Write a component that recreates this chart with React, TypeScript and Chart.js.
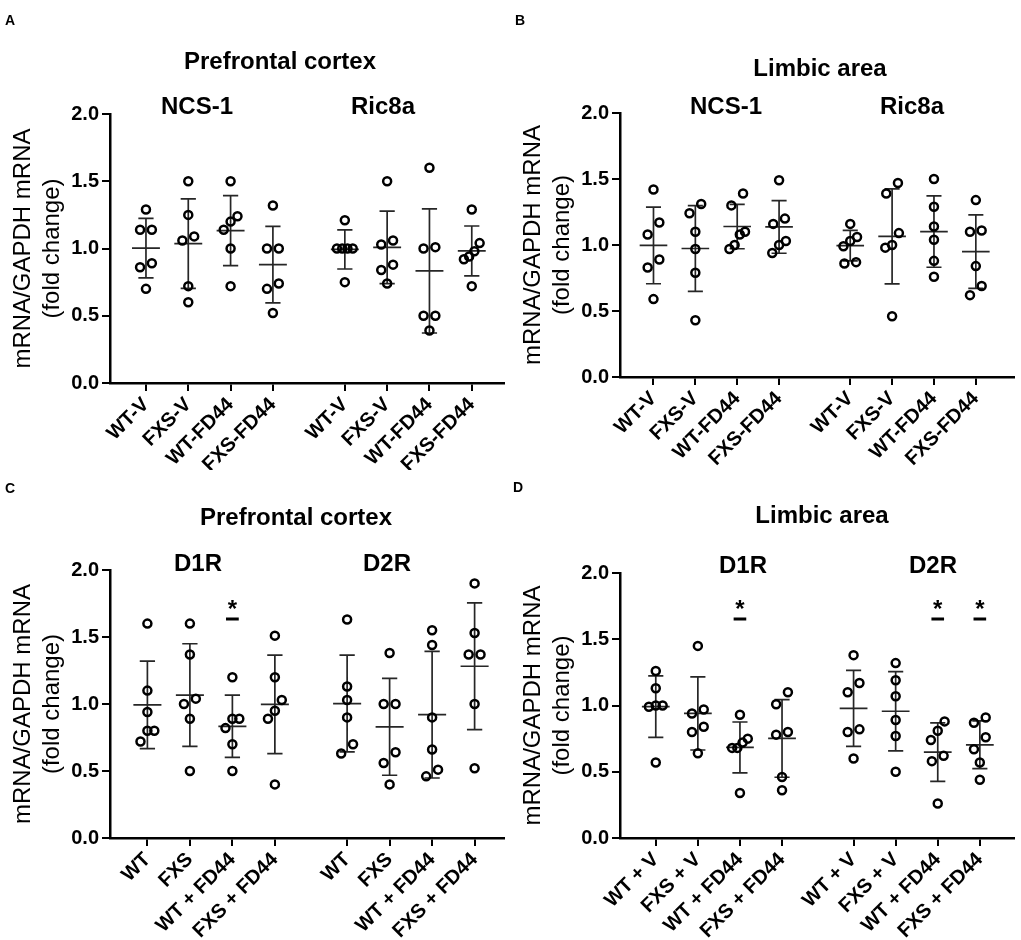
import React, { useEffect, useRef } from "react";
import { Chart, registerables } from "chart.js";

Chart.register(...registerables);

const FONT = "'Liberation Sans', Arial, Helvetica, sans-serif";

// ---------- categories / tick labels ----------
const labelsDash = ["WT-V", "FXS-V", "WT-FD44", "FXS-FD44"];
const labelsTreat = ["WT", "FXS", "WT + FD44", "FXS + FD44"];
const labelsPlusV = ["WT + V", "FXS + V", "WT + FD44", "FXS + FD44"];
const yTickValues = [0, 0.5, 1.0, 1.5, 2.0];

// ---------- values (mRNA/GAPDH fold change), one array per group ----------
// A: prefrontal cortex
const pfcNCS1 = [
  [1.29, 1.14, 1.14, 0.89, 0.86, 0.70],
  [1.50, 1.25, 1.06, 1.09, 0.72, 0.60],
  [1.50, 1.24, 1.20, 1.14, 1.00, 0.72],
  [1.32, 1.00, 1.00, 0.74, 0.70, 0.52],
];
const pfcRic8a = [
  [1.21, 1.00, 1.00, 1.00, 1.00, 0.75],
  [1.50, 1.06, 1.03, 0.88, 0.84, 0.74],
  [1.60, 1.00, 1.01, 0.50, 0.50, 0.39],
  [1.29, 1.04, 0.98, 0.94, 0.92, 0.72],
];
// B: limbic area
const limNCS1 = [
  [1.42, 1.17, 1.08, 0.89, 0.83, 0.59],
  [1.31, 1.24, 1.10, 0.97, 0.79, 0.43],
  [1.39, 1.30, 1.10, 1.08, 1.00, 0.97],
  [1.49, 1.20, 1.16, 1.03, 1.00, 0.94],
];
const limRic8a = [
  [1.16, 1.06, 1.03, 0.99, 0.87, 0.86],
  [1.47, 1.39, 1.09, 1.00, 0.98, 0.46],
  [1.50, 1.29, 1.14, 1.04, 0.88, 0.76],
  [1.34, 1.11, 1.10, 0.84, 0.69, 0.62],
];
// C: prefrontal cortex
const pfcD1R = [
  [1.60, 1.10, 0.94, 0.80, 0.80, 0.72],
  [1.60, 1.37, 1.00, 1.04, 0.89, 0.50],
  [1.20, 0.89, 0.89, 0.82, 0.70, 0.50],
  [1.51, 1.20, 1.03, 0.95, 0.89, 0.40],
];
const pfcD2R = [
  [1.63, 1.13, 1.03, 0.90, 0.70, 0.63],
  [1.38, 1.00, 1.00, 0.64, 0.56, 0.40],
  [1.55, 1.44, 0.90, 0.66, 0.46, 0.51],
  [1.90, 1.53, 1.37, 1.37, 1.00, 0.52],
];
// D: limbic area
const limD1R = [
  [1.26, 1.13, 1.00, 0.99, 1.00, 0.57],
  [1.45, 0.97, 0.94, 0.84, 0.80, 0.64],
  [0.93, 0.75, 0.72, 0.68, 0.68, 0.34],
  [1.10, 1.01, 0.80, 0.78, 0.46, 0.36],
];
const limD2R = [
  [1.38, 1.17, 1.10, 0.82, 0.80, 0.60],
  [1.32, 1.19, 1.07, 0.89, 0.77, 0.50],
  [0.88, 0.81, 0.74, 0.62, 0.58, 0.26],
  [0.91, 0.87, 0.76, 0.67, 0.57, 0.44],
];

// significant columns (index among the 8 columns of a panel)
const sigC = [2];
const sigD = [2, 6, 7];

// ---------- layout / style constants ----------
const SLOTS = [0, 1, 2, 3, 4.7, 5.7, 6.7, 7.7];
const PX_PER_UNIT = 43;
const MEAN_HALF = 0.33;
const CAP_HALF = 0.18;
const DASH_HALF = 0.15;
const ROW_THR = 0.095;
const CW = 510;
const CH = 470;
const BAR_COLOR = "#262626";

type XY = [number, number];
interface PanelDef {
  letter: string;
  title: string;
  genes: [string, string];
  groups: number[][];
  labels: string[];
  sig: number[];
  left: number;
  top: number;
  plotTop: number;
  plotBottom: number;
  xMin: number;
  xMax: number;
  letterXY: XY;
  titleXY: XY;
  geneXY: [XY, XY];
  starY: number;
  dashY: number;
}

const panels: PanelDef[] = [
  {
    letter: "A", title: "Prefrontal cortex", genes: ["NCS-1", "Ric8a"],
    groups: [...pfcNCS1, ...pfcRic8a], labels: [...labelsDash, ...labelsDash], sig: [],
    left: 0, top: 0, plotTop: 114, plotBottom: 383, xMin: -0.85, xMax: 8.45,
    letterXY: [5, 14], titleXY: [280, 60], geneXY: [[197, 105], [383, 105]],
    starY: 1.75, dashY: 1.64,
  },
  {
    letter: "B", title: "Limbic area", genes: ["NCS-1", "Ric8a"],
    groups: [...limNCS1, ...limRic8a], labels: [...labelsDash, ...labelsDash], sig: [],
    left: 510, top: 0, plotTop: 113, plotBottom: 377, xMin: -0.8, xMax: 8.6,
    letterXY: [5, 14], titleXY: [310, 67], geneXY: [[216, 105], [402, 105]],
    starY: 1.75, dashY: 1.64,
  },
  {
    letter: "C", title: "Prefrontal cortex", genes: ["D1R", "D2R"],
    groups: [...pfcD1R, ...pfcD2R], labels: [...labelsTreat, ...labelsTreat], sig: sigC,
    left: 0, top: 470, plotTop: 100, plotBottom: 368, xMin: -0.88, xMax: 8.38,
    letterXY: [5, 12], titleXY: [296, 46], geneXY: [[198, 92], [387, 92]],
    starY: 1.75, dashY: 1.634,
  },
  {
    letter: "D", title: "Limbic area", genes: ["D1R", "D2R"],
    groups: [...limD1R, ...limD2R], labels: [...labelsPlusV, ...labelsPlusV], sig: sigD,
    left: 510, top: 470, plotTop: 103, plotBottom: 368, xMin: -0.85, xMax: 8.5,
    letterXY: [3, 11], titleXY: [312, 44], geneXY: [[233, 94], [423, 94]],
    starY: 1.774, dashY: 1.653,
  },
];

// horizontal spread (px) of points that sit at nearly the same height
function rowOffsets(vals: number[]): number[] {
  const idx = vals.map((_, i) => i).sort((a, b) => vals[a] - vals[b]);
  const offs = new Array(vals.length).fill(0);
  let row: number[] = [idx[0]];
  const flush = () => {
    const n = row.length;
    if (n > 1) {
      const w = Math.min(12 + (n - 2) * 2, 16);
      row.forEach((k, j) => {
        offs[k] = (j / (n - 1) - 0.5) * w;
      });
    }
  };
  for (let i = 1; i < idx.length; i++) {
    if (vals[idx[i]] - vals[idx[i - 1]] < ROW_THR) row.push(idx[i]);
    else {
      flush();
      row = [idx[i]];
    }
  }
  flush();
  return offs;
}

function PanelChart({ p }: { p: PanelDef }) {
  const ref = useRef<HTMLCanvasElement>(null);

  useEffect(() => {
    const canvas = ref.current;
    if (!canvas) return;

    const pts: { x: number; y: number }[] = [];
    const means: { x: number; y: number | null }[] = [];
    const sds: { x: number; y: number | null }[] = [];
    const dashes: { x: number; y: number | null }[] = [];

    p.groups.forEach((vals, gi) => {
      const cx = SLOTS[gi];
      const offs = rowOffsets(vals);
      vals.forEach((v, k) => pts.push({ x: cx + offs[k] / PX_PER_UNIT, y: v }));
      const n = vals.length;
      const m = vals.reduce((a, b) => a + b, 0) / n;
      const s = Math.sqrt(vals.reduce((a, b) => a + (b - m) * (b - m), 0) / (n - 1));
      means.push({ x: cx - MEAN_HALF, y: m }, { x: cx + MEAN_HALF, y: m }, { x: cx, y: null });
      sds.push(
        { x: cx, y: m + s }, { x: cx, y: m - s }, { x: cx, y: null },
        { x: cx - CAP_HALF, y: m + s }, { x: cx + CAP_HALF, y: m + s }, { x: cx, y: null },
        { x: cx - CAP_HALF, y: m - s }, { x: cx + CAP_HALF, y: m - s }, { x: cx, y: null },
      );
    });
    p.sig.forEach((gi) => {
      const cx = SLOTS[gi];
      dashes.push({ x: cx - DASH_HALF, y: p.dashY }, { x: cx + DASH_HALF, y: p.dashY }, { x: cx, y: null });
    });

    const annot = {
      id: "annot",
      afterDraw(chart: any) {
        const ctx: CanvasRenderingContext2D = chart.ctx;
        ctx.save();
        ctx.fillStyle = "#000";
        // panel letter
        ctx.font = `bold 14px ${FONT}`;
        ctx.textAlign = "left";
        ctx.textBaseline = "top";
        ctx.fillText(p.letter, p.letterXY[0], p.letterXY[1]);
        // title and gene names
        ctx.font = `bold 24px ${FONT}`;
        ctx.textAlign = "center";
        ctx.textBaseline = "alphabetic";
        ctx.fillText(p.title, p.titleXY[0], p.titleXY[1] + 0.36 * 24);
        p.genes.forEach((g, i) => ctx.fillText(g, p.geneXY[i][0], p.geneXY[i][1] + 0.36 * 24));
        // significance stars
        const xs = chart.scales.x;
        const ys = chart.scales.y;
        ctx.font = `bold 24px ${FONT}`;
        p.sig.forEach((gi) => {
          const x = xs.getPixelForValue(SLOTS[gi]);
          const y = ys.getPixelForValue(p.starY);
          ctx.fillText("*", x, y + 0.57 * 24);
        });
        ctx.restore();
      },
    };

    const chart = new Chart(canvas, {
      type: "scatter",
      data: {
        datasets: [
          {
            label: "values",
            data: pts,
            pointRadius: 4,
            pointHoverRadius: 4,
            pointBorderWidth: 2.5,
            borderColor: "#000",
            backgroundColor: "rgba(0,0,0,0)",
            order: 0,
          } as any,
          {
            label: "mean",
            data: means,
            showLine: true,
            spanGaps: false,
            pointRadius: 0,
            borderColor: BAR_COLOR,
            borderWidth: 1.7,
            order: 1,
          } as any,
          {
            label: "sd",
            data: sds,
            showLine: true,
            spanGaps: false,
            pointRadius: 0,
            borderColor: BAR_COLOR,
            borderWidth: 1.7,
            order: 2,
          } as any,
          {
            label: "sig",
            data: dashes,
            showLine: true,
            spanGaps: false,
            pointRadius: 0,
            borderColor: "#000",
            borderWidth: 3,
            order: 3,
          } as any,
        ],
      },
      options: {
        animation: false,
        responsive: false,
        events: [],
        layout: { padding: { top: p.plotTop, left: 0, right: 2, bottom: 0 } },
        plugins: { legend: { display: false }, tooltip: { enabled: false }, title: { display: false } },
        scales: {
          x: {
            type: "linear",
            min: p.xMin,
            max: p.xMax,
            afterBuildTicks: (s: any) => {
              s.ticks = SLOTS.map((v) => ({ value: v }));
            },
            afterFit: (s: any) => {
              s.height = CH - p.plotBottom;
            },
            ticks: {
              autoSkip: false,
              minRotation: 45,
              maxRotation: 45,
              padding: 2,
              color: "#000",
              font: { family: FONT, size: 20, weight: "bold" },
              callback: (_v: any, i: number) => p.labels[i],
            },
            grid: { drawOnChartArea: false, drawTicks: true, tickLength: 8, color: "#000", lineWidth: 2 },
            border: { display: true, color: "#000", width: 2.5 },
          },
          y: {
            type: "linear",
            min: 0,
            max: 2,
            afterBuildTicks: (s: any) => {
              s.ticks = yTickValues.map((v) => ({ value: v }));
            },
            afterFit: (s: any) => {
              s.width = 110;
            },
            ticks: {
              padding: 3,
              color: "#000",
              font: { family: FONT, size: 20, weight: "bold" },
              callback: (v: any) => Number(v).toFixed(1),
            },
            title: {
              display: true,
              text: ["mRNA/GAPDH mRNA", "(fold change)"],
              color: "#000",
              font: { family: FONT, size: 24, weight: "normal", lineHeight: 1.2 },
              padding: { top: 9, bottom: 0 },
            },
            grid: { drawOnChartArea: false, drawTicks: true, tickLength: 8, color: "#000", lineWidth: 2 },
            border: { display: true, color: "#000", width: 2.5 },
          },
        },
      } as any,
      plugins: [annot],
    });

    return () => chart.destroy();
  }, [p]);

  return (
    <canvas
      ref={ref}
      width={CW}
      height={CH}
      style={{ position: "absolute", left: p.left, top: p.top, width: CW, height: CH }}
    />
  );
}

export default function App() {
  return (
    <div
      style={{
        position: "absolute",
        left: 0,
        top: 0,
        width: 1021,
        height: 940,
        background: "#fff",
        overflow: "hidden",
      }}
    >
      {panels.map((p) => (
        <PanelChart key={p.letter} p={p} />
      ))}
    </div>
  );
}
